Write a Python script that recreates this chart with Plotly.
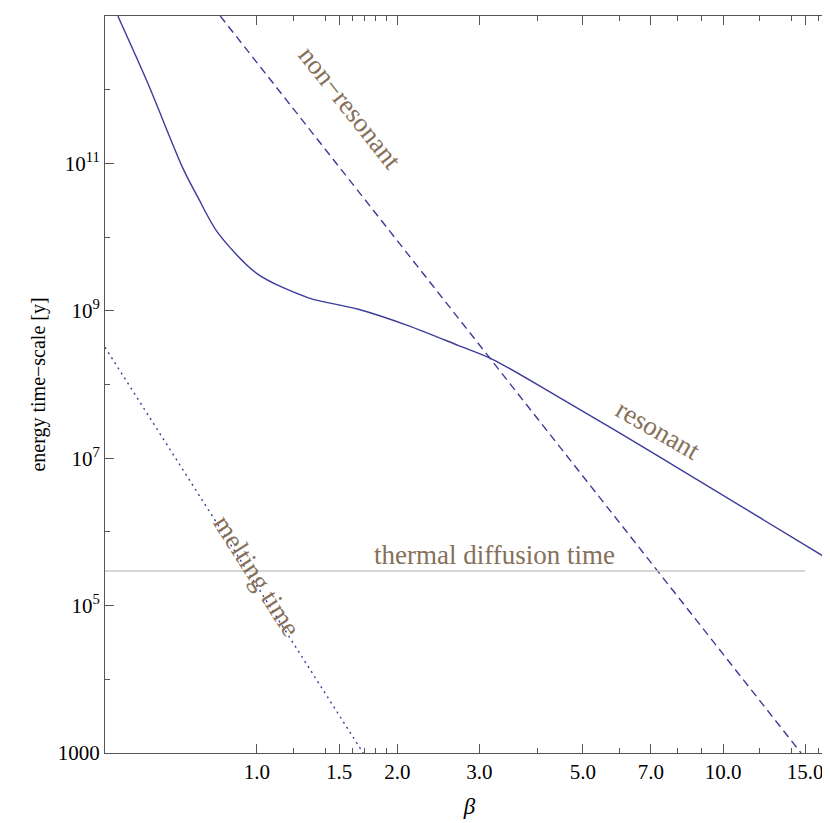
import plotly.graph_objects as go

# resonant curve
res_x = [0.503, 0.583, 0.693, 0.748, 0.824, 1.0, 1.29, 1.65, 2.11, 2.70, 3.20, 4.43, 7.26, 16.4]
res_y = [1e13, 1.23e12, 8.7e10, 3.4e10, 1.15e10, 3.2e9, 1.5e9, 1.05e9, 6.3e8, 3.4e8, 2.2e8, 6.8e7, 1.07e7, 4.7e5]
# non-resonant (dashed)
nr_x = [0.834, 14.7]
nr_y = [1e13, 1e3]
# melting time (dotted)
mt_x = [0.472, 1.69]
mt_y = [3.2e8, 1e3]
# thermal diffusion time
td_x = [0.472, 15.0]
td_y = [2.95e5, 2.95e5]

ytick_vals = [1e3, 1e5, 1e7, 1e9, 1e11, 1e13]
ytick_text = ["1000", "10<sup>5</sup>", "10<sup>7</sup>", "10<sup>9</sup>", "10<sup>11</sup>", "10<sup>13</sup>"]
ytick_minor = [1e4, 1e6, 1e8, 1e10, 1e12]
xtick_vals = [1.0, 1.5, 2.0, 3.0, 5.0, 7.0, 10.0, 15.0]
xtick_text = ["1.0", "1.5", "2.0", "3.0", "5.0", "7.0", "10.0", "15.0"]
xtick_minor = [1.2, 1.4, 1.6, 1.7, 1.8, 1.9, 4.0, 6.0, 8.0, 9.0, 12.0, 14.0, 16.0]

blue = "#3c3c9a"
brown = "#86705a"

fig = go.Figure()
fig.add_scatter(x=res_x, y=res_y, mode="lines",
                line=dict(color=blue, width=1.4, shape="spline", smoothing=0.8))
fig.add_scatter(x=nr_x, y=nr_y, mode="lines", line=dict(color=blue, width=1.4, dash="8px,5px"))
fig.add_scatter(x=mt_x, y=mt_y, mode="lines", line=dict(color=blue, width=1.4, dash="2px,4px"))
fig.add_scatter(x=td_x, y=td_y, mode="lines", line=dict(color="#c8c8c8", width=1.4))

lab = dict(size=27, color=brown, family="Liberation Serif")
fig.add_annotation(x=0.2, y=11.75, text="non\u2212resonant", textangle=51.7, showarrow=False, font=lab)
fig.add_annotation(x=0.861, y=7.38, text="resonant", textangle=30, showarrow=False, font=lab)
fig.add_annotation(x=-0.0, y=5.4, text="melting time", textangle=57.5, showarrow=False, font=lab)
fig.add_annotation(x=0.51, y=5.68, text="thermal diffusion time", showarrow=False, font=lab)

axis = dict(type="log", showgrid=False, zeroline=False, showline=True, mirror="ticks",
            linecolor="#555", linewidth=1, ticks="inside", ticklen=9, tickcolor="#555",
            tickfont=dict(family="Liberation Serif", size=21, color="black"))
fig.update_xaxes(axis, range=[-0.326, 1.238], tickvals=xtick_vals, ticktext=xtick_text,
                 minor=dict(ticks="inside", ticklen=5, tickcolor="#555", tickvals=xtick_minor),
                 title=dict(text="<i>β</i>", font=dict(family="Liberation Serif", size=23, color="black"),
                            standoff=14))
fig.update_yaxes(axis, range=[3, 13], tickvals=ytick_vals, ticktext=ytick_text,
                 minor=dict(ticks="inside", ticklen=5, tickcolor="#555", tickvals=ytick_minor),
                 title=dict(text="energy time\u2212scale [y]",
                            font=dict(family="Liberation Serif", size=20, color="black"), standoff=6))
fig.update_layout(width=830, height=823, margin=dict(l=97, r=4, t=8, b=78),
                  plot_bgcolor="white", paper_bgcolor="white", showlegend=False)
fig.write_html("out.html")
